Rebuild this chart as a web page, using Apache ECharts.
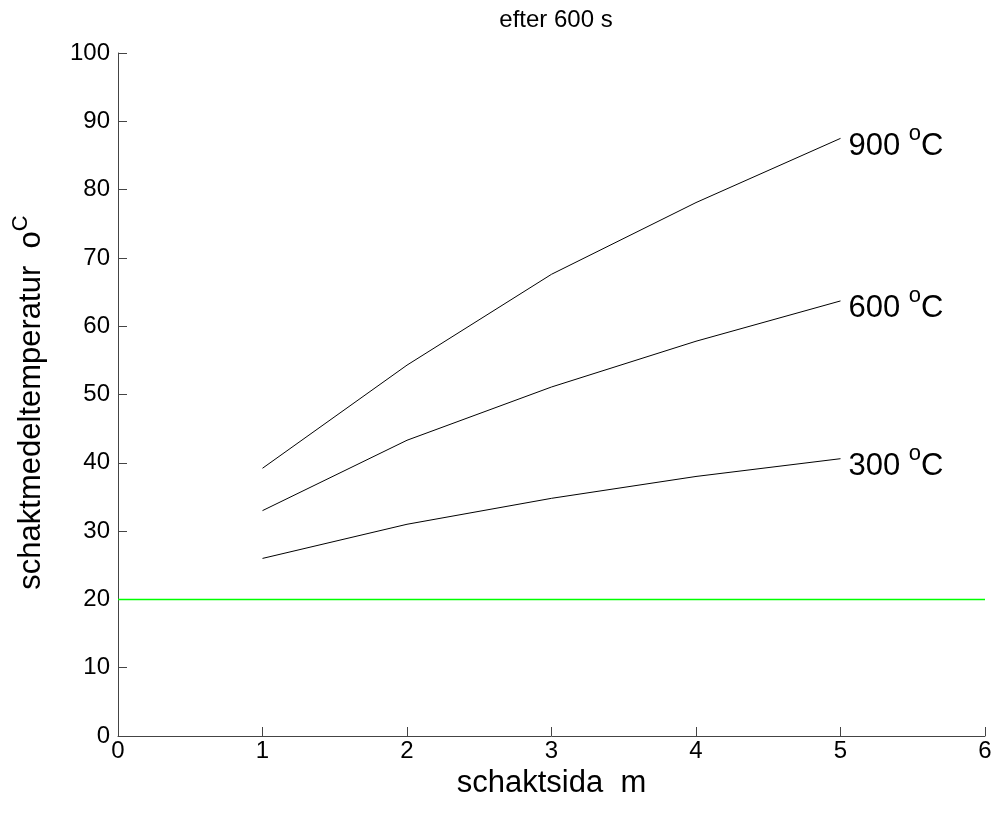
<!DOCTYPE html>
<html><head><meta charset="utf-8">
<script src="https://cdn.jsdelivr.net/npm/echarts@6/dist/echarts.min.js"></script>
<style>html,body{margin:0;padding:0;background:#fff}#c{width:996px;height:816px}</style>
</head><body><div id="c"></div>
<script>
const xValues = [1, 2, 3, 4, 5];
const t900 = [39.2, 54.3, 67.6, 78.1, 87.5];
const t600 = [33.0, 43.3, 51.1, 57.8, 63.7];
const t300 = [26.0, 31.0, 34.8, 38.0, 40.6];
const seriesNames = ['900', '600', '300'];
const ambientX = [0, 6];
const ambientY = [20, 20];
const titleText = 'efter 600 s';
const xName = 'schaktsida  m';
const yName = 'schaktmedeltemperatur  o';

const font = 'Liberation Sans, Arial, sans-serif';
function pairs(xs, ys){ return xs.map((x,i)=>[x, ys[i]]); }
function curve(name, ys){
  return {
    type:'line', name:name, data:pairs(xValues, ys), symbol:'none',
    lineStyle:{color:'#000', width:1}, silent:true,
    endLabel:{show:true, distance:8, offset:[0,8], color:'#000', fontFamily:font, fontSize:31,
      formatter: name + ' {sup|o}C',
      rich:{sup:{fontSize:22, verticalAlign:'bottom', padding:[0,0,25,0], fontFamily:font, color:'#000'}}}
  };
}
const chart = echarts.init(document.getElementById('c'), null, {renderer:'canvas'});
chart.setOption({
  animation:false,
  title:{text:titleText, left:551, top:3, textAlign:'center',
    textStyle:{fontFamily:font, fontSize:24, fontWeight:'normal', color:'#000'}},
  grid:{left:118, right:11, top:53, bottom:80},
  xAxis:{type:'value', min:0, max:6, interval:1,
    name:xName, nameLocation:'middle', nameGap:24,
    nameTextStyle:{fontFamily:font, fontSize:31, color:'#000'},
    axisLine:{lineStyle:{color:'#444', width:1}},
    axisTick:{inside:true, length:9, lineStyle:{color:'#444'}},
    axisLabel:{fontFamily:font, fontSize:24, color:'#000', margin:3},
    splitLine:{show:false}},
  yAxis:{type:'value', min:0, max:100, interval:10,
    name:yName + '{sup|C}', nameLocation:'middle', nameGap:66,
    nameTextStyle:{fontFamily:font, fontSize:31, color:'#000', padding:[0,16,0,0],
      rich:{sup:{fontSize:22, fontFamily:font, color:'#000', verticalAlign:'bottom', padding:[0,0,20,0]}}},
    axisLine:{show:true, lineStyle:{color:'#444', width:1}},
    axisTick:{show:true, inside:true, length:9, lineStyle:{color:'#444'}},
    axisLabel:{fontFamily:font, fontSize:24, color:'#000', margin:8},
    splitLine:{show:false}},
  series:[
    curve(seriesNames[0], t900),
    curve(seriesNames[1], t600),
    curve(seriesNames[2], t300),
    {type:'line', data:pairs(ambientX, ambientY), symbol:'none', silent:true,
      lineStyle:{color:'#00ff00', width:1.5}}
  ]
});
</script></body></html>
